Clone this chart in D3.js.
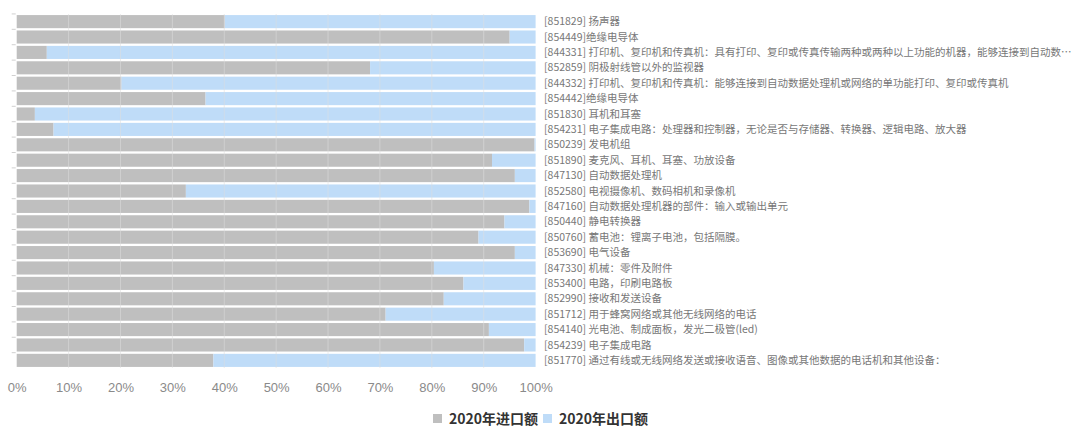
<!DOCTYPE html>
<html lang="zh">
<head>
  <meta charset="UTF-8">
  <title>2020年进出口额占比</title>
  <script src="https://cdn.jsdelivr.net/npm/d3@7"></script>
  <style>
    body { margin: 0; background: #fff; font-family: "Noto Sans CJK SC", "Noto Sans", sans-serif; }
    .cat-label { fill: #777; font-size: 10.5px; }
    .x-axis text { fill: #8a8a8a; font-size: 13px; font-family: "Liberation Sans", Arial, sans-serif; }
    .x-axis path, .x-axis line { display: none; }
    .legend text { fill: #333; font-size: 14px; font-weight: bold; }
  </style>
</head>
<body>
<script>
  // 类别（HS编码 + 名称）
  const categories = [
    "[851829] 扬声器",
    "[854449]绝缘电导体",
    "[844331] 打印机、复印机和传真机：具有打印、复印或传真传输两种或两种以上功能的机器，能够连接到自动数…",
    "[852859] 阴极射线管以外的监视器",
    "[844332] 打印机、复印机和传真机：能够连接到自动数据处理机或网络的单功能打印、复印或传真机",
    "[854442]绝缘电导体",
    "[851830] 耳机和耳塞",
    "[854231] 电子集成电路：处理器和控制器，无论是否与存储器、转换器、逻辑电路、放大器",
    "[850239] 发电机组",
    "[851890] 麦克风、耳机、耳塞、功放设备",
    "[847130] 自动数据处理机",
    "[852580] 电视摄像机、数码相机和录像机",
    "[847160] 自动数据处理机器的部件：输入或输出单元",
    "[850440] 静电转换器",
    "[850760] 蓄电池：锂离子电池，包括隔膜。",
    "[853690] 电气设备",
    "[847330] 机械：零件及附件",
    "[853400] 电路，印刷电路板",
    "[852990] 接收和发送设备",
    "[851712] 用于蜂窝网络或其他无线网络的电话",
    "[854140] 光电池、制成面板，发光二极管(led)",
    "[854239] 电子集成电路",
    "[851770] 通过有线或无线网络发送或接收语音、图像或其他数据的电话机和其他设备："
  ];

  // 2020年进口额占比（%）
  const importShare = [40.1, 95.0, 5.8, 68.1, 20.2, 36.4, 3.5, 7.1, 99.8, 91.6, 96.0, 32.6,
                       98.8, 94.0, 89.0, 96.0, 80.4, 86.1, 82.3, 71.1, 91.0, 97.8, 37.9];
  // 2020年出口额占比（%）
  const exportShare = [59.9, 5.0, 94.2, 31.9, 79.8, 63.6, 96.5, 92.9, 0.2, 8.4, 4.0, 67.4,
                       1.2, 6.0, 11.0, 4.0, 19.6, 13.9, 17.7, 28.9, 9.0, 2.2, 62.1];

  const seriesNames = ["2020年进口额", "2020年出口额"];
  const xTicks = [0, 10, 20, 30, 40, 50, 60, 70, 80, 90, 100];

  const W = 1080, H = 439;
  const plotL = 16.7, plotR = 535.6, plotT = 14, plotB = 368;
  const colors = ["#bfbfbf", "#bfdcf8"];

  const svg = d3.select("body").append("svg")
    .attr("width", W)
    .attr("height", H);

  const x = d3.scaleLinear().domain([0, 100]).range([plotL, plotR]);
  const y = d3.scaleBand().domain(categories).range([plotT, plotB]).paddingInner(0.15).paddingOuter(0.07);

  const rows = categories.map((c, i) => ({ cat: c, imp: importShare[i], exp: exportShare[i] }));

  // 进口（灰色）
  svg.append("g").selectAll("rect")
    .data(rows).join("rect")
    .attr("x", x(0))
    .attr("y", d => y(d.cat))
    .attr("width", d => x(d.imp) - x(0))
    .attr("height", y.bandwidth())
    .attr("fill", colors[0]);

  // 出口（蓝色）
  svg.append("g").selectAll("rect")
    .data(rows).join("rect")
    .attr("x", d => x(d.imp))
    .attr("y", d => y(d.cat))
    .attr("width", d => x(d.imp + d.exp) - x(d.imp))
    .attr("height", y.bandwidth())
    .attr("fill", colors[1]);

  // 网格线
  svg.append("g")
    .selectAll("line")
    .data(xTicks.slice(1, -1)).join("line")
    .attr("x1", d => x(d)).attr("x2", d => x(d))
    .attr("y1", plotT).attr("y2", plotB)
    .attr("stroke", "#dedede")
    .attr("stroke-opacity", 0.55);

  // 左侧小刻度
  const step = y.step();
  svg.append("g")
    .selectAll("line")
    .data(categories).join("line")
    .attr("x1", plotL - 5).attr("x2", plotL - 1)
    .attr("y1", d => y(d) - (step - y.bandwidth()) / 2)
    .attr("y2", d => y(d) - (step - y.bandwidth()) / 2)
    .attr("stroke", "#d0d0d0");

  // 类别标签
  svg.append("g").selectAll("text")
    .data(categories).join("text")
    .attr("class", "cat-label")
    .attr("x", 544)
    .attr("y", d => y(d) + y.bandwidth() / 2)
    .attr("dy", "0.35em")
    .text(d => d);

  // X轴
  svg.append("g")
    .attr("class", "x-axis")
    .attr("transform", `translate(0, ${plotB + 12})`)
    .call(d3.axisBottom(x).tickValues(xTicks).tickFormat(d => d + "%").tickSize(0).tickPadding(3));

  // 图例
  const legend = svg.append("g").attr("class", "legend");
  const legendX = [433, 543];
  seriesNames.forEach((name, i) => {
    legend.append("rect")
      .attr("x", legendX[i]).attr("y", 414)
      .attr("width", 9).attr("height", 9)
      .attr("fill", colors[i]);
    legend.append("text")
      .attr("x", legendX[i] + 16).attr("y", 419)
      .attr("dy", "0.35em")
      .text(name);
  });
</script>
</body>
</html>
